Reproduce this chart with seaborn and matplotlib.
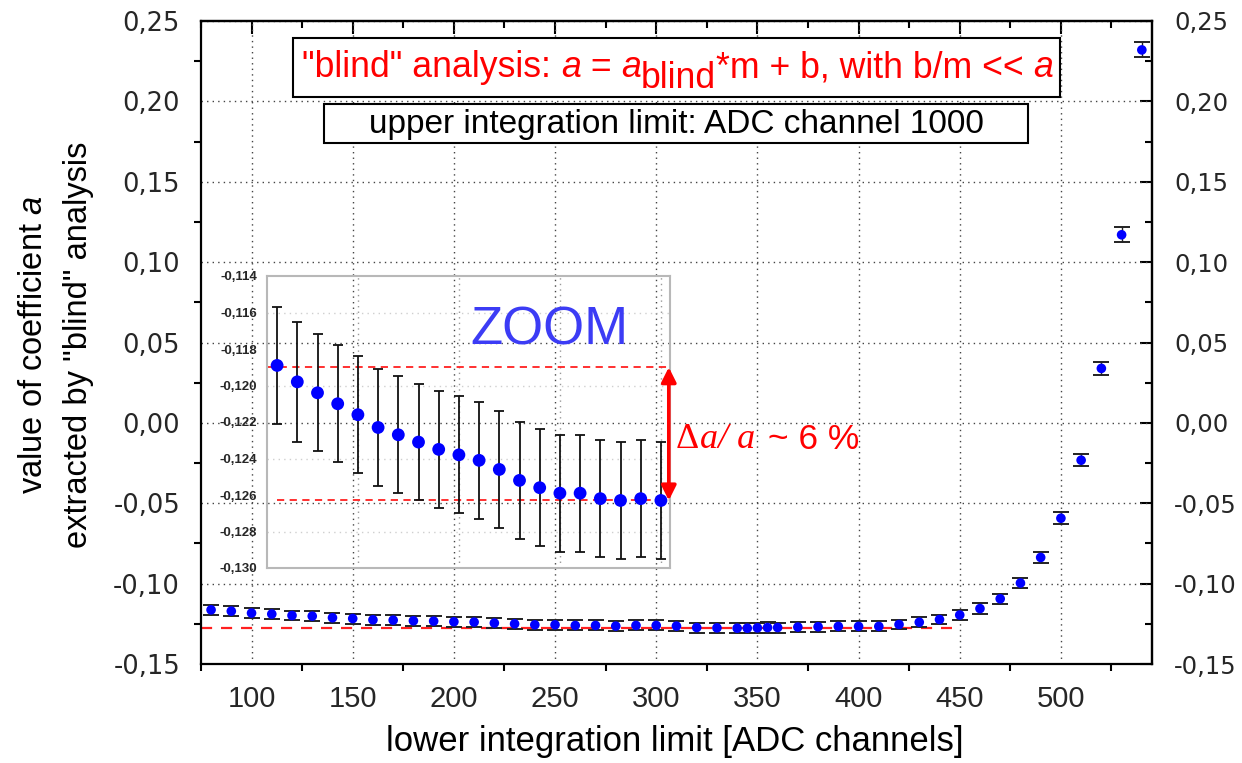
import matplotlib
matplotlib.use("Agg")
import matplotlib.pyplot as plt
import seaborn as sns
import pandas as pd
from matplotlib.ticker import MultipleLocator, FixedLocator
from matplotlib.patches import Rectangle
from matplotlib.text import Annotation

# ---------------- data ----------------
x_main = [80, 90, 100, 110, 120, 130, 140, 150, 160, 170, 180, 190, 200, 210, 220,
          230, 240, 250, 260, 270, 280, 290, 300, 310, 320, 330, 340, 345, 350, 355,
          360, 370, 380, 390, 400, 410, 420, 430, 440, 450, 460, 470, 480, 490, 500,
          510, 520, 530, 540]
y_main = [-0.1163, -0.1171, -0.1183, -0.1189, -0.1198, -0.1202, -0.1212, -0.1217,
          -0.1225, -0.1227, -0.1231, -0.1233, -0.1237, -0.1239, -0.1245, -0.1250,
          -0.1256, -0.1256, -0.1260, -0.1260, -0.1264, -0.1260, -0.1260, -0.1264,
          -0.1273, -0.1275, -0.1277, -0.1277, -0.1275, -0.1273, -0.1273, -0.1270,
          -0.1268, -0.1266, -0.1266, -0.1266, -0.1254, -0.1240, -0.1223, -0.1195,
          -0.1155, -0.1094, -0.0996, -0.0837, -0.0593, -0.0232, 0.0339, 0.1170, 0.2320]
err_main = [0.0031, 0.0031, 0.0031, 0.0031, 0.0031, 0.0031, 0.0031, 0.0031, 0.0031,
            0.0031, 0.0031, 0.0031, 0.0031, 0.0031, 0.0031, 0.0031, 0.0031, 0.0031,
            0.0031, 0.0031, 0.0031, 0.0031, 0.0031, 0.0031, 0.0031, 0.0031, 0.0032,
            0.0032, 0.0032, 0.0032, 0.0031, 0.0031, 0.0031, 0.0031, 0.0031, 0.0031,
            0.0031, 0.0031, 0.0031, 0.0031, 0.0032, 0.0032, 0.0033, 0.0034, 0.0036,
            0.0037, 0.0039, 0.0046, 0.0047]

x_zoom = [80, 90, 100, 110, 120, 130, 140, 150, 160, 170, 180, 190, 200, 210, 220,
          230, 240, 250, 260, 270]
y_zoom = [-0.1189, -0.1198, -0.1204, -0.1210, -0.1216, -0.1223, -0.1227, -0.1231,
          -0.1235, -0.1238, -0.1241, -0.1246, -0.1252, -0.1256, -0.1259, -0.1259,
          -0.1262, -0.1263, -0.1262, -0.1263]
err_zoom = [0.0032, 0.0033, 0.0032, 0.0032, 0.0032, 0.0032, 0.0032, 0.0032, 0.0032,
            0.0032, 0.0032, 0.0032, 0.0032, 0.0032, 0.0032, 0.0032, 0.0032, 0.0032,
            0.0032, 0.0032]

x_ticks = [100, 150, 200, 250, 300, 350, 400, 450, 500]
y_ticks = [-0.15, -0.10, -0.05, 0.00, 0.05, 0.10, 0.15, 0.20, 0.25]
y_ticklabels = ["-0,15", "-0,10", "-0,05", "0,00", "0,05", "0,10", "0,15", "0,20", "0,25"]
zoom_yticks = [-0.130, -0.128, -0.126, -0.124, -0.122, -0.120, -0.118, -0.116, -0.114]
zoom_yticklabels = ["-0,130", "-0,128", "-0,126", "-0,124", "-0,122", "-0,120",
                    "-0,118", "-0,116", "-0,114"]
fit_level_main = -0.1273
fit_main_xmax = 446
zoom_top_level = -0.1190
zoom_bottom_level = -0.1263

# ---------------- style ----------------
sns.set_theme(style="white")
plt.rcParams["font.family"] = ["Liberation Sans", "DejaVu Sans"]
plt.rcParams["mathtext.fontset"] = "custom"
plt.rcParams["mathtext.it"] = "Liberation Sans:italic"
plt.rcParams["mathtext.rm"] = "Liberation Sans"

fig = plt.figure(figsize=(12.42, 7.63), dpi=100)
fig.patch.set_facecolor("white")
ax = fig.add_axes([0.1618, 0.1297, 0.7657, 0.8428])
ax.set_facecolor("white")

df = pd.DataFrame({"x": x_main, "y": y_main, "e": err_main})
ax.errorbar(df["x"], df["y"], yerr=df["e"], fmt="none", ecolor="#222222",
            elinewidth=1.0, capsize=5.5, capthick=1.4, zorder=3)
sns.scatterplot(data=df, x="x", y="y", ax=ax, color="#0000ff", s=48,
                edgecolor="none", linewidth=0, zorder=4, legend=False)
ax.hlines(fit_level_main, 75, fit_main_xmax, colors="#ff2020", linestyles=(0, (5, 4)),
          linewidth=1.6, zorder=2)

ax.set_xlim(75, 545)
ax.set_ylim(-0.15, 0.25)
ax.set_xticks(x_ticks)
ax.set_xticklabels([str(v) for v in x_ticks])
ax.xaxis.set_minor_locator(MultipleLocator(25))
ax.set_yticks(y_ticks)
ax.set_yticklabels(y_ticklabels)
ax.yaxis.set_minor_locator(MultipleLocator(0.025))
ax.grid(True, which="major", linestyle=(0, (1, 3)), color="#444444", linewidth=1.0)
for s in ax.spines.values():
    s.set_color("black")
    s.set_linewidth(1.6)
ax.tick_params(axis="x", which="major", direction="out", length=9, width=1.5,
               color="black", pad=6, labelsize=21)
ax.tick_params(axis="x", which="minor", direction="out", length=5, width=1.5,
               color="black", bottom=True)
ax.tick_params(axis="y", which="major", direction="out", length=9, width=1.5,
               color="black", pad=6, labelsize=18.5)
ax.tick_params(axis="y", which="minor", direction="out", length=5, width=1.5,
               color="black", left=True)
for lab in ax.get_yticklabels():
    lab.set_fontfamily("DejaVu Sans")
ax.set_xlabel("")
ax.set_ylabel("")

secx = ax.secondary_xaxis("top")
secx.set_xticks(x_ticks)
secx.set_xticklabels([])
secx.xaxis.set_minor_locator(MultipleLocator(25))
secx.tick_params(which="major", direction="in", length=9, width=1.5, color="black")
secx.tick_params(which="minor", direction="in", length=5, width=1.5, color="black", top=True)
secx.spines["top"].set_linewidth(1.6)

secy = ax.secondary_yaxis("right")
secy.set_yticks(y_ticks)
secy.set_yticklabels(y_ticklabels)
secy.yaxis.set_minor_locator(MultipleLocator(0.025))
secy.tick_params(which="major", direction="in", length=9, width=1.5, color="black",
                 labelsize=17.5, pad=16)
secy.tick_params(which="minor", direction="in", length=5, width=1.5, color="black", right=True)
secy.spines["right"].set_linewidth(1.6)
for lab in secy.get_yticklabels():
    lab.set_fontfamily("DejaVu Sans")

# axis labels
fig.text(675 / 1242, 1 - 758 / 763, "lower integration limit [ADC channels]",
         ha="center", va="bottom", fontsize=25, color="black")
fig.text(56 / 1242, 1 - 345 / 763, 'value of coefficient $a$\nextracted by "blind" analysis',
         rotation=90, ha="center", va="center", fontsize=23.5,
         linespacing=1.6, multialignment="center", color="black")

# ---------------- title boxes ----------------
fig.add_artist(Rectangle((293 / 1242, 1 - 97 / 763), (1060 - 293) / 1242, 59 / 763,
                         transform=fig.transFigure, facecolor="white",
                         edgecolor="black", linewidth=1.5, zorder=5))
fig.add_artist(Rectangle((324 / 1242, 1 - 143 / 763), (1028 - 324) / 1242, 39 / 763,
                         transform=fig.transFigure, facecolor="white",
                         edgecolor="black", linewidth=1.5, zorder=5))

red = "#ff0000"
tsize = 25.7
pieces = [('"blind" analysis: ', "normal", 0), ("a", "italic", 0), (" = ", "normal", 0),
          ("a", "italic", 0), ("blind", "normal", -11), ("*m + b, with b/m << ", "normal", 11),
          ("a", "italic", 0)]
prev = fig.text(302 / 1242, 1 - 85 / 763, pieces[0][0], fontsize=tsize, color=red,
                va="bottom", ha="left", zorder=6)
for txt, style, dy in pieces[1:]:
    prev = fig.add_artist(Annotation(
        txt, xy=(1, 0), xycoords=prev, xytext=(0, dy), textcoords="offset pixels",
        fontsize=tsize, color=red, style=style, va="bottom", ha="left",
        annotation_clip=False, zorder=6))

fig.text(676 / 1242, 1 - 124 / 763, "upper integration limit: ADC channel 1000",
         ha="center", va="center", fontsize=24, color="black", zorder=6)

# ---------------- inset ----------------
axin = fig.add_axes([267 / 1242, 1 - 568 / 763, (670 - 267) / 1242, (568 - 276) / 763])
axin.patch.set_alpha(0)
axin.set_xlim(75, 274.5)
axin.set_ylim(-0.130, -0.114)
for s in axin.spines.values():
    s.set_color("#b8b8b8")
    s.set_linewidth(1.5)
axin.set_xticks([120, 170, 220, 270])
axin.set_xticklabels([])
axin.tick_params(axis="x", length=0)
axin.set_yticks(zoom_yticks)
axin.set_yticklabels(zoom_yticklabels)
axin.tick_params(axis="y", direction="out", length=5, width=1.2, color="black",
                 labelsize=9.5, pad=2)
for lab in axin.get_yticklabels():
    lab.set_fontweight("bold")
axin.grid(True, axis="x", linestyle=(0, (1, 3)), color="#999999", linewidth=1.0)
axin.yaxis.set_minor_locator(FixedLocator([-0.128, -0.124, -0.120, -0.116]))
axin.tick_params(axis="y", which="minor", left=False, right=True, direction="in",
                 length=6, width=1.2, color="#555555")
for yv in [-0.128, -0.124, -0.120, -0.116]:
    axin.axhline(yv, linestyle=(0, (1, 3)), color="#cfcfcf", linewidth=1.0, zorder=0)

dfz = pd.DataFrame({"x": x_zoom, "y": y_zoom, "e": err_zoom})
axin.errorbar(dfz["x"], dfz["y"], yerr=dfz["e"], fmt="none", ecolor="#111111",
              elinewidth=1.3, capsize=3.5, capthick=1.3, zorder=3)
sns.scatterplot(data=dfz, x="x", y="y", ax=axin, color="#0000ff", s=85,
                edgecolor="none", linewidth=0, zorder=4, legend=False)
axin.set_xlabel("")
axin.set_ylabel("")
axin.hlines(zoom_top_level, 75, 274.5, colors="#ff2020", linestyles=(0, (4, 3)),
            linewidth=1.3, zorder=2)
axin.hlines(zoom_bottom_level, x_zoom[0], 274.5, colors="#ff2020", linestyles=(0, (4, 3)),
            linewidth=1.3, zorder=2)
axin.annotate("", xy=(0.997, zoom_bottom_level), xytext=(0.997, zoom_top_level),
              xycoords=("axes fraction", "data"), textcoords=("axes fraction", "data"),
              arrowprops=dict(arrowstyle="<|-|>", color=red, lw=2.6, mutation_scale=22,
                              shrinkA=0, shrinkB=0), annotation_clip=False, zorder=6)
axin.text(0.70, 0.815, "ZOOM", transform=axin.transAxes, ha="center", va="center",
          fontsize=38, color="#3c3cf5")

# delta text
d1 = fig.text(676 / 1242, 1 - 448 / 763, "\u0394", fontsize=26, color=red,
              family="Liberation Serif", va="baseline", ha="left")
d2 = fig.add_artist(Annotation("a/ a", xy=(1, 0), xycoords=d1, xytext=(1, 0),
                               textcoords="offset pixels", fontsize=26, color=red,
                               family="Liberation Serif", style="italic",
                               va="bottom", ha="left", annotation_clip=False))
d3 = fig.add_artist(Annotation(" ~ 6 %", xy=(1, 0), xycoords=d2, xytext=(2, 0),
                               textcoords="offset pixels", fontsize=25.5, color=red,
                               va="bottom", ha="left", annotation_clip=False))

fig.savefig("out.png", dpi=100, facecolor="white")
